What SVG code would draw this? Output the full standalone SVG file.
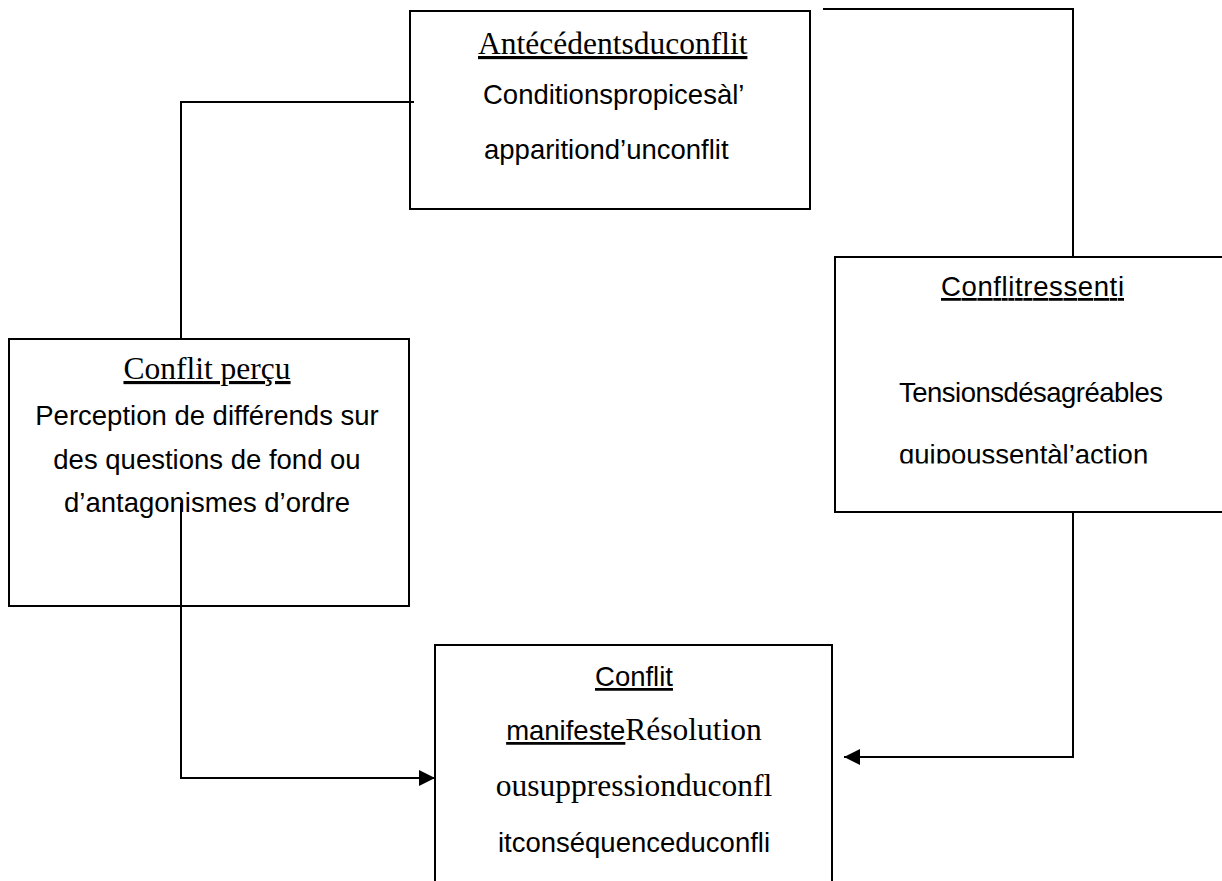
<svg xmlns="http://www.w3.org/2000/svg" width="1222" height="881" viewBox="0 0 1222 881">
  <style>
    .box { fill: #ffffff; stroke: #000000; stroke-width: 2; }
    .wire { fill: none; stroke: #000000; stroke-width: 2; }
    .serif { font-family: "Liberation Serif", "Times New Roman", serif; font-size: 31.5px; fill: #000000; }
    .sans { font-family: "Liberation Sans", Arial, sans-serif; font-size: 27.5px; fill: #000000; }
    .u { text-decoration: underline; }
  </style>
  <defs>
    <marker id="arrow" markerUnits="userSpaceOnUse" markerWidth="16" markerHeight="16" viewBox="0 0 16 16" refX="16" refY="8" orient="auto">
      <path d="M0,0 L16,8 L0,16 Z" fill="#000000"/>
    </marker>
    <clipPath id="clipAction">
      <rect x="835" y="400" width="390" height="63.5"/>
    </clipPath>
  </defs>

  <rect width="1222" height="881" fill="#ffffff"/>

  <!-- Antecedents box -->
  <g id="antecedents">
    <rect class="box" x="410" y="11" width="400" height="198"/>
    <text class="serif u" x="478" y="54">Antécédentsduconflit</text>
    <text class="sans" x="483" y="104">Conditionspropicesàl’</text>
    <text class="sans" x="484" y="159">apparitiond’unconflit</text>
  </g>

  <!-- Felt conflict box -->
  <g id="ressenti">
    <rect class="box" x="835" y="257" width="392" height="255"/>
    <text class="sans u" x="941" y="296" textLength="183" lengthAdjust="spacing">Conflitressenti</text>
    <text class="sans" x="899" y="402" textLength="264" lengthAdjust="spacing">Tensionsdésagréables</text>
    <text class="sans" x="899" y="464" clip-path="url(#clipAction)">quipoussentàl’action</text>
  </g>

  <!-- Perceived conflict box -->
  <g id="percu">
    <rect class="box" x="9" y="339" width="400" height="267"/>
    <text class="serif u" x="207" y="379" text-anchor="middle">Conflit perçu</text>
    <text class="sans" x="207" y="425" text-anchor="middle">Perception de différends sur</text>
    <text class="sans" x="207" y="469" text-anchor="middle">des questions de fond ou</text>
    <text class="sans" x="207" y="512" text-anchor="middle">d’antagonismes d’ordre</text>
  </g>

  <!-- Manifest conflict box (runs off the bottom edge) -->
  <g id="manifeste">
    <rect class="box" x="435" y="645" width="397" height="260"/>
    <text class="sans u" x="634" y="686" text-anchor="middle">Conflit</text>
    <text x="634" y="740" text-anchor="middle"><tspan class="sans u">manifeste</tspan><tspan class="serif">Résolution</tspan></text>
    <text class="serif" x="634" y="796" text-anchor="middle">ousuppressionduconfl</text>
    <text class="sans" x="634" y="852" text-anchor="middle">itconséquenceduconfli</text>
  </g>

  <!-- Connectors -->
  <g id="connectors">
    <path class="wire" d="M823,9 H1073 V257"/>
    <path class="wire" d="M1073,512 V757 H844" marker-end="url(#arrow)"/>
    <path class="wire" d="M181,339 V102 H414"/>
    <path class="wire" d="M181,503 V778 H435" marker-end="url(#arrow)"/>
  </g>
</svg>
